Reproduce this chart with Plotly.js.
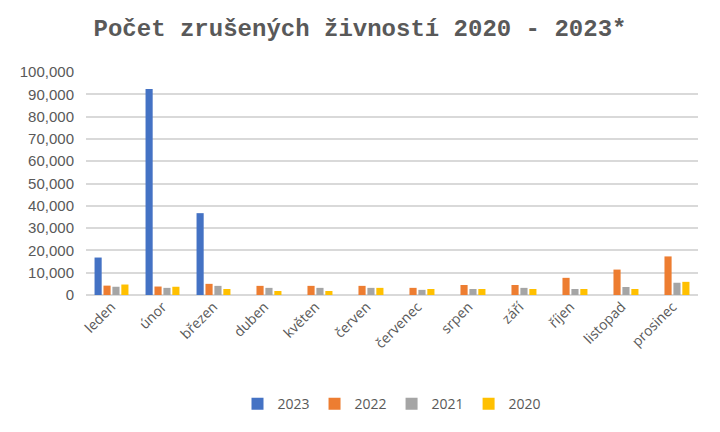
<!DOCTYPE html>
<html><head><meta charset="utf-8">
<script src="https://cdn.plot.ly/plotly-3.0.1.min.js"></script>
<style>body{margin:0}#c{width:720px;height:432px}</style>
</head><body><div id="c"></div>
<script>
const months = ["leden","únor","březen","duben","květen","červen","červenec","srpen","září","říjen","listopad","prosinec"];
const y2023 = [16800, 92400, 36700, null, null, null, null, null, null, null, null, null];
const y2022 = [4200, 3800, 5000, 4100, 4100, 4100, 3200, 4500, 4500, 7700, 11400, 17300];
const y2021 = [3700, 3200, 4100, 3200, 3200, 3200, 2300, 2700, 3200, 2700, 3600, 5500];
const y2020 = [4700, 3700, 2700, 1800, 1800, 3200, 2700, 2700, 2700, 2700, 2700, 5900];
const seriesNames = ["2023","2022","2021","2020"];
const colors = ["#4472C4","#ED7D31","#A5A5A5","#FFC000"];
const data = [y2023,y2022,y2021,y2020].map((v,i)=>({
  type:"bar", x:months, y:v, name:seriesNames[i], marker:{color:colors[i]}, hoverinfo:"y"
}));
const font = "Open Sans, Liberation Sans, Arial, sans-serif";
const layout = {
  width:720, height:432,
  margin:{l:86, r:22, t:72, b:137},
  title:{text:"Počet zrušených živností 2020 - 2023*", x:0.5, xanchor:"center", y:0.935, yanchor:"middle",
    font:{family:"Liberation Mono, DejaVu Sans Mono, monospace", size:24, color:"#595959", weight:"bold"}},
  barmode:"group", bargap:0.3, bargroupgap:0.2,
  xaxis:{tickangle:-45, tickfont:{family:font, size:14, color:"#595959"},
    showline:false, ticks:"", showgrid:false},
  yaxis:{range:[0,100000], dtick:10000, tickformat:",", gridcolor:"#d9d9d9", gridwidth:2,
    zeroline:true, zerolinecolor:"#d9d9d9", zerolinewidth:2,
    tickfont:{family:"Liberation Sans, Arial, sans-serif", size:15, color:"#595959"}, ticks:"outside", ticklen:8, tickcolor:"rgba(0,0,0,0)"},
  legend:{orientation:"h", x:0.5, xanchor:"center", y:-0.49, yanchor:"middle",
    font:{family:font, size:14, color:"#595959"}, traceorder:"normal"},
  plot_bgcolor:"#ffffff", paper_bgcolor:"#ffffff"
};
Plotly.newPlot("c", data, layout, {displayModeBar:false});
</script></body></html>
